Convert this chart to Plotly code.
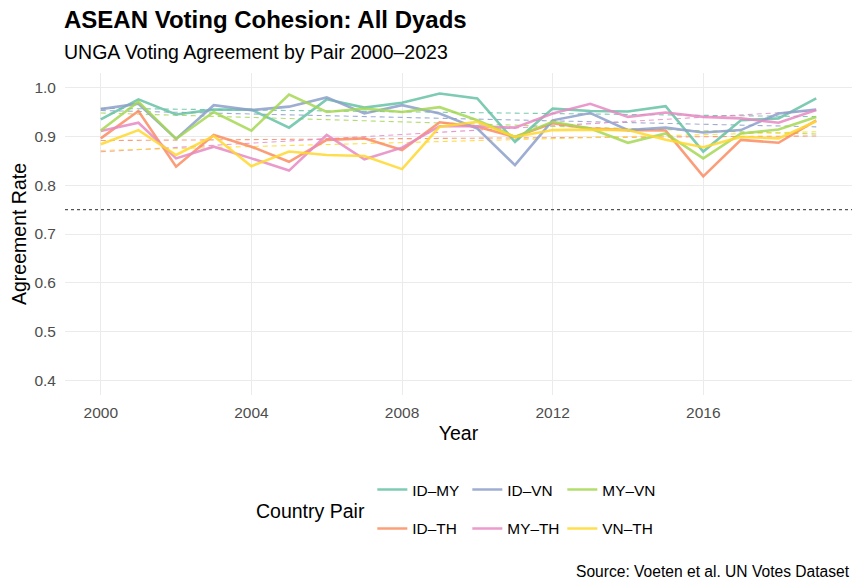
import numpy as np
import plotly.graph_objects as go

years = list(range(2000, 2020))

id_my = [0.935, 0.976, 0.945, 0.955, 0.955, 0.918, 0.976, 0.959, 0.969, 0.988,
         0.978, 0.889, 0.957, 0.952, 0.951, 0.962, 0.869, 0.933, 0.937, 0.978]
id_th = [0.896, 0.952, 0.838, 0.903, 0.879, 0.848, 0.893, 0.896, 0.872, 0.929,
         0.920, 0.899, 0.927, 0.916, 0.913, 0.912, 0.818, 0.893, 0.887, 0.933]
id_vn = [0.956, 0.967, 0.895, 0.964, 0.954, 0.961, 0.980, 0.947, 0.964, 0.947,
         0.916, 0.841, 0.933, 0.948, 0.913, 0.918, 0.908, 0.913, 0.947, 0.955]
my_th = [0.911, 0.928, 0.855, 0.879, 0.855, 0.830, 0.903, 0.853, 0.877, 0.921,
         0.921, 0.918, 0.947, 0.967, 0.940, 0.949, 0.940, 0.937, 0.928, 0.954]
my_vn = [0.912, 0.971, 0.895, 0.950, 0.912, 0.986, 0.950, 0.957, 0.950, 0.960,
         0.933, 0.899, 0.930, 0.916, 0.887, 0.906, 0.855, 0.906, 0.914, 0.940]
vn_th = [0.884, 0.913, 0.862, 0.901, 0.839, 0.869, 0.862, 0.860, 0.833, 0.920,
         0.930, 0.899, 0.913, 0.914, 0.913, 0.893, 0.878, 0.899, 0.896, 0.931]

pairs = ["ID–MY", "ID–TH", "ID–VN", "MY–TH", "MY–VN", "VN–TH"]
series = [id_my, id_th, id_vn, my_th, my_vn, vn_th]
colors = ["#66C2A5", "#FC8D62", "#8DA0CB", "#E78AC3", "#A6D854", "#FFD92F"]
# first legend row / second legend row, like ggplot's nrow=2
rows = ["legend", "legend2", "legend", "legend2", "legend", "legend2"]

threshold = 0.75
y_ticks = [0.4, 0.5, 0.6, 0.7, 0.8, 0.9, 1.0]
x_ticks = [2000, 2004, 2008, 2012, 2016]

FONT = "Liberation Sans, Arial, sans-serif"

fig = go.Figure()

# linear trend per pair (like geom_smooth(method="lm"))
for name, vals, col in zip(pairs, series, colors):
    slope, icpt = np.polyfit(years, vals, 1)
    trend = [slope * yr + icpt for yr in years]
    fig.add_trace(go.Scatter(
        x=years, y=trend, mode="lines", showlegend=False,
        line=dict(color=col, width=1.1, dash="5px,4px"),
        opacity=0.85, hoverinfo="skip"
    ))

for name, vals, col, lg in zip(pairs, series, colors, rows):
    fig.add_trace(go.Scatter(
        x=years, y=vals, mode="lines", name=name, legend=lg,
        line=dict(color=col, width=2.6),
        opacity=0.85
    ))

fig.add_shape(
    type="line", xref="paper", x0=0, x1=1, y0=threshold, y1=threshold,
    line=dict(color="#555555", width=1.1, dash="dot")
)

fig.update_layout(
    width=862, height=588,
    margin=dict(l=65, r=10, t=73, b=193, autoexpand=False),
    plot_bgcolor="white", paper_bgcolor="white",
    font=dict(family=FONT, color="black"),
    showlegend=True,
)

fig.update_xaxes(
    range=[1999.05, 2019.95], tickvals=x_ticks, automargin=False,
    showgrid=True, gridcolor="#EBEBEB", gridwidth=1,
    zeroline=False, showline=False, ticks="", ticklabelstandoff=6,
    tickfont=dict(size=15.5, color="#4D4D4D"),
    title=dict(text="Year", font=dict(size=19.5, color="black"), standoff=6),
)
fig.update_yaxes(
    range=[0.37, 1.03], tickvals=y_ticks, tickformat=".1f", automargin=False,
    showgrid=True, gridcolor="#EBEBEB", gridwidth=1,
    zeroline=False, showline=False, ticks="", ticklabelstandoff=8,
    tickfont=dict(size=15.5, color="#4D4D4D"),
    title=dict(text="Agreement Rate", font=dict(size=19.5, color="black"), standoff=2),
)

leg_common = dict(
    orientation="h", xref="paper", yref="paper",
    xanchor="left", yanchor="middle",
    font=dict(size=15.4, color="black", family=FONT),
    entrywidth=50, entrywidthmode="pixels",
    bgcolor="rgba(0,0,0,0)", itemclick=False,
)
fig.update_layout(
    legend=dict(x=0.3905, y=-0.295, **leg_common),
    legend2=dict(x=0.3905, y=-0.416, **leg_common),
)

annots = [
    dict(text="<b>ASEAN Voting Cohesion: All Dyads</b>", x=-0.004, y=1.165,
         font=dict(size=24, color="black")),
    dict(text="UNGA Voting Agreement by Pair 2000–2023", x=-0.004, y=1.065,
         font=dict(size=19.5, color="black")),
    dict(text="Country Pair", x=0.2405, y=-0.360,
         font=dict(size=19.5, color="black")),
]
for a in annots:
    fig.add_annotation(xref="paper", yref="paper", xanchor="left",
                       yanchor="middle", showarrow=False, **a)
fig.add_annotation(text="Source: Voeten et al. UN Votes Dataset",
                   xref="paper", yref="paper", x=1, y=-0.5466,
                   xanchor="right", yanchor="middle", showarrow=False,
                   font=dict(size=15.6, color="black"))

# page body has a default 8px margin; drop it so the figure fills the window
fig.write_html("out.html", config={"displayModeBar": False},
               post_script="document.body.style.margin = '0px';")
